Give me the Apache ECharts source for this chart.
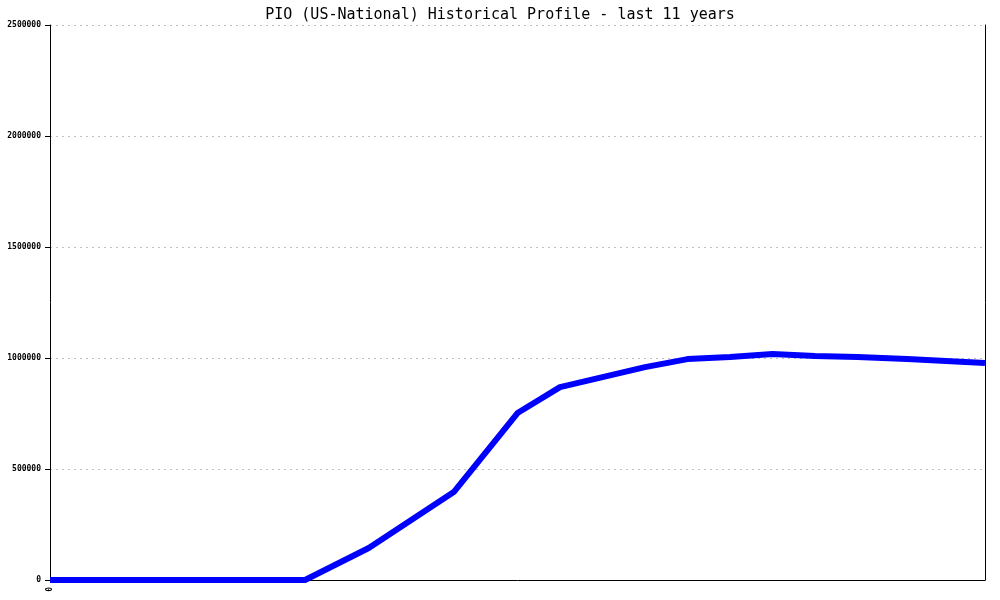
<!DOCTYPE html>
<html>
<head>
<meta charset="utf-8">
<script src="https://cdn.jsdelivr.net/npm/echarts@6/dist/echarts.min.js"></script>
<style>html,body{margin:0;padding:0;background:#fff}#c{width:1000px;height:600px}</style>
</head>
<body>
<div id="c"></div>
<script>
// months since start of the 11-year window
const months = [0, 36, 45, 57, 66, 72, 78, 84, 90, 96, 102, 108, 114, 121, 132];
const values = [0, 0, 144000, 396000, 752000, 869000, 914000, 959000, 995000, 1005000, 1018000, 1009000, 1005000, 995000, 977000];
const yTicks = [0, 500000, 1000000, 1500000, 2000000, 2500000];
const titleText = 'PIO (US-National) Historical Profile - last 11 years';

const chart = echarts.init(document.getElementById('c'));
chart.setOption({
  animation: false,
  backgroundColor: '#ffffff',
  title: {
    text: titleText, left: 'center', top: 3,
    textStyle: {fontFamily: 'DejaVu Sans Mono', fontSize: 15, fontWeight: 'normal', color: '#000'}
  },
  grid: {left: 50, right: 15, top: 25, bottom: 20, containLabel: false},
  xAxis: {
    type: 'value', min: 0, max: 132, interval: 132,
    axisLine: {show: true, lineStyle: {color: '#000', width: 1}},
    axisTick: {show: false},
    splitLine: {show: false},
    axisLabel: {
      rotate: 90, margin: 7,
      fontFamily: 'DejaVu Sans Mono', fontSize: 8, fontWeight: 'bold', color: '#000',
      formatter: v => v === 0 ? '0' : ''
    }
  },
  yAxis: [{
    type: 'value', min: yTicks[0], max: yTicks[yTicks.length - 1], interval: 500000,
    axisLine: {show: true, lineStyle: {color: '#000', width: 1}},
    axisTick: {show: true, length: 5, lineStyle: {color: '#000'}},
    splitLine: {show: true, lineStyle: {color: '#c0c0c0', type: [2, 4], width: 1}},
    axisLabel: {fontFamily: 'DejaVu Sans Mono', fontSize: 8, fontWeight: 'bold', color: '#000', margin: 9,
      formatter: v => String(v)}
  }, {
    type: 'value', position: 'right', min: 0, max: 2500000, interval: 500000,
    axisLine: {show: true, lineStyle: {color: '#000', width: 1}},
    axisTick: {show: false}, axisLabel: {show: false}, splitLine: {show: false}
  }],
  series: [{
    type: 'line',
    data: months.map((m, i) => [m, values[i]]),
    showSymbol: false,
    lineStyle: {color: '#0000ff', width: 6},
    itemStyle: {color: '#0000ff'}
  }]
});
</script>
</body>
</html>
